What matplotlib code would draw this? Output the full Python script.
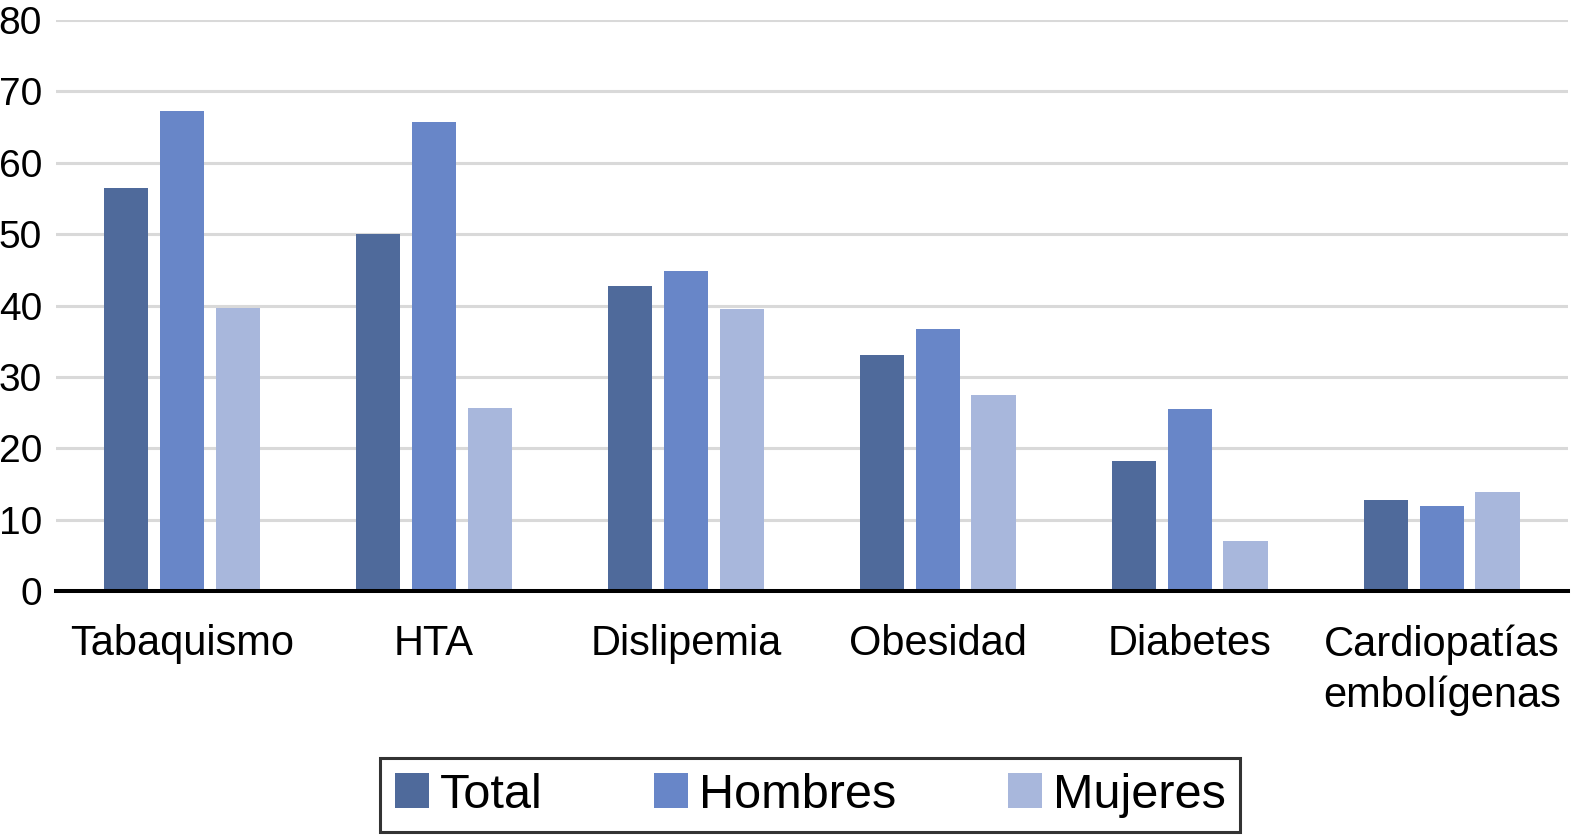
import numpy as np
import matplotlib.pyplot as plt

plt.rcParams["font.family"] = ["Liberation Sans", "DejaVu Sans"]

categories = ["Tabaquismo", "HTA", "Dislipemia", "Obesidad", "Diabetes", "Cardiopatías\nembolígenas"]
series_names = ["Total", "Hombres", "Mujeres"]
total = [56.4, 50.0, 42.7, 33.1, 18.2, 12.7]
hombres = [67.2, 65.7, 44.8, 36.7, 25.5, 11.9]
mujeres = [39.6, 25.6, 39.5, 27.5, 7.0, 13.9]
colors = ["#4f6a9b", "#6886c8", "#a8b7dc"]


def main():
    fig = plt.figure(figsize=(15.73, 8.38), dpi=100)
    ax = fig.add_axes([0.0356, 0.2947, 0.9612, 0.6814])

    x = np.arange(len(categories))
    width = 0.178
    step = 0.222
    for i, (name, vals) in enumerate(zip(series_names, [total, hombres, mujeres])):
        ax.bar(x + (i - 1) * step, vals, width=width, color=colors[i], label=name, zorder=2)

    ax.set_xlim(-0.5, len(categories) - 0.5)
    ax.set_ylim(0, 80)
    ax.set_yticks(range(0, 81, 10))
    ax.yaxis.grid(True, color="#d9d9d9", linewidth=2.2, zorder=0)
    ax.set_axisbelow(True)
    for side in ["top", "right", "left"]:
        ax.spines[side].set_visible(False)
    ax.spines["bottom"].set_linewidth(2.9)
    ax.spines["bottom"].set_zorder(3)

    ax.set_xticks(x)
    ax.set_xticklabels(categories, fontsize=30, linespacing=1.35)
    ax.tick_params(axis="x", length=0, pad=24)
    ax.tick_params(axis="y", length=0, pad=10, labelsize=28)

    leg = fig.legend(loc="center", bbox_to_anchor=(0.515, 0.0513), ncol=3, fontsize=35,
                     frameon=True, fancybox=False, edgecolor="black", handlelength=0.7,
                     handleheight=0.7, handletextpad=0.22, columnspacing=2.3,
                     borderpad=0.3, borderaxespad=0)
    leg.get_frame().set_linewidth(2.2)

    fig.savefig("out.png", dpi=100)
    plt.close(fig)


if __name__ == "__main__":
    main()
